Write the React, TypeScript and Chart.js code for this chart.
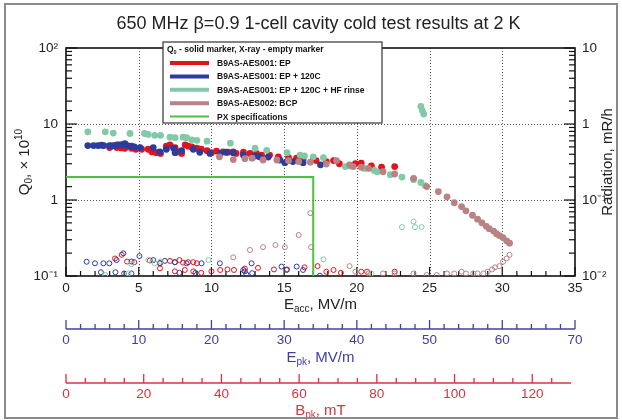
import React, { useEffect, useRef } from 'react';
import { Chart, registerables } from 'chart.js';
Chart.register(...registerables);

const FONT = '"Liberation Sans", Arial, Helvetica, sans-serif';

const TITLE = '650 MHz β=0.9 1-cell cavity cold test results at 2 K';
const LEGEND_HEADER = ' - solid marker, X-ray - empty marker';
const seriesLabels = [
  'B9AS-AES001: EP',
  'B9AS-AES001: EP + 120C',
  'B9AS-AES001: EP + 120C + HF rinse',
  'B9AS-AES002: BCP',
  'PX specifications',
];
const seriesColors = ['#e4121c', '#2b3c9c', '#82c9a9', '#b98283', '#4cc23e'];

// Eacc tick labels / axis ranges
const eaccRange = [0, 35];
const epkRange = [0, 70];
const bpkRange = [0, 131];
const q0Range = [0.1, 100];
const radRange = [0.01, 10];
const q0TickLabels: Record<string, string> = { '-1': '10⁻¹', '0': '1', '1': '10', '2': '10²' };
const radTickLabels: Record<string, string> = { '-2': '10⁻²', '-1': '10⁻¹', '0': '1', '1': '10' };

// ---- Q0 (solid markers), Q0 in units of 1e10 ----
const epEacc = [3.0, 3.5, 3.8, 4.05, 4.3, 4.5, 4.8, 5.2, 5.65, 5.9, 6.2, 6.5, 6.9, 7.15, 7.5, 7.7, 7.95, 8.2, 8.4, 8.65, 9.0, 9.3, 9.7, 10.0, 10.35, 10.8, 11.15, 11.5, 11.7, 12.2, 12.65, 13.1, 13.45, 14.0, 14.6, 15.3, 15.85, 16.3, 17.0, 17.2, 17.9, 18.4, 18.8, 19.9, 20.3, 21.0, 21.7, 22.6];
const epQ = [4.9, 4.9, 4.85, 4.8, 5.1, 4.8, 4.65, 4.65, 4.65, 4.3, 4.2, 4.1, 5.1, 5.3, 4.9, 4.3, 4.1, 5.3, 5.1, 5.0, 4.8, 4.65, 4.45, 4.2, 4.4, 4.3, 4.25, 4.3, 4.1, 4.25, 4.1, 4.1, 3.9, 3.9, 3.7, 3.6, 3.55, 3.4, 3.4, 3.3, 3.2, 3.3, 3.0, 3.0, 3.05, 2.8, 2.7, 2.75];

const bakeEacc = [1.5, 1.9, 2.2, 2.45, 2.6, 3.0, 3.15, 3.3, 3.5, 3.65, 3.85, 4.05, 4.2, 4.5, 4.7, 5.1, 6.0, 6.45, 6.9, 7.4, 7.5, 7.95, 8.75, 9.2, 9.9, 10.6, 11.0, 11.5, 12.2, 12.8, 13.0, 13.3, 13.9, 14.7, 15.05, 15.6, 16.3, 17.5];
const bakeQ = [5.2, 5.2, 5.2, 5.25, 5.2, 5.2, 5.15, 5.2, 5.3, 5.3, 5.35, 5.5, 5.2, 5.1, 5.0, 4.9, 4.9, 4.3, 4.65, 4.8, 4.2, 4.45, 4.65, 4.25, 4.1, 4.1, 4.25, 4.2, 3.9, 3.6, 3.8, 3.7, 3.67, 3.36, 3.1, 3.2, 3.1, 2.9];

const hfEacc = [1.5, 2.7, 3.25, 4.4, 5.4, 5.65, 6.1, 6.5, 7.15, 7.5, 8.05, 8.3, 8.65, 9.0, 9.7, 11.3, 13.0, 13.8, 15.2, 16.1, 16.4, 17.0, 17.7, 19.2, 19.5, 20.5, 21.2, 21.4, 22.3, 23.1, 23.9, 24.4, 24.7, 24.4, 24.5, 24.6];
const hfQ = [7.9, 7.9, 7.6, 7.5, 7.5, 7.3, 7.1, 7.1, 6.7, 6.6, 6.7, 6.6, 6.2, 6.1, 5.95, 5.6, 4.8, 4.5, 4.2, 3.9, 3.8, 3.7, 3.6, 2.75, 2.8, 2.6, 2.45, 2.35, 2.15, 2.0, 1.85, 1.7, 1.55, 17, 15, 13.5];

const bcpEacc = [10.55, 11.5, 12.3, 12.8, 13.55, 14.5, 15.3, 16.0, 16.8, 17.9, 18.6, 19.5, 19.75, 20.3, 20.8, 21.8, 22.6, 23.9, 24.8, 25.6, 26.2, 26.7, 27.2, 27.5, 27.95, 28.3, 28.6, 28.9, 29.1, 29.4, 29.6, 29.8, 30.05, 30.3, 30.5];
const bcpQ = [3.7, 3.4, 3.5, 3.55, 3.36, 3.36, 3.3, 3.2, 3.15, 2.97, 3.3, 2.9, 2.75, 2.7, 2.6, 2.36, 2.2, 1.93, 1.5, 1.29, 1.1, 0.92, 0.82, 0.72, 0.63, 0.56, 0.5, 0.45, 0.42, 0.39, 0.36, 0.34, 0.32, 0.29, 0.27];

// ---- X-ray radiation (empty markers), mR/h ----
const epXEacc = [3.37, 3.83, 4.2, 4.7, 5.77, 6.46, 7.15, 7.49, 7.8, 8.05, 8.4, 8.75, 9.0, 6.46, 7.49, 8.17, 8.75, 9.3, 10.0, 10.6, 11.1, 11.55, 12.3, 13.2, 14.3, 15.2, 16.4, 17.3, 17.9, 18.4, 18.9, 20.3, 20.7, 22.6];
const epXRad = [0.017, 0.019, 0.0155, 0.0152, 0.016, 0.0148, 0.0158, 0.0152, 0.0162, 0.015, 0.0152, 0.0152, 0.0147, 0.0126, 0.0115, 0.012, 0.0115, 0.011, 0.0115, 0.012, 0.0122, 0.012, 0.0125, 0.0128, 0.0122, 0.0122, 0.013, 0.0135, 0.0114, 0.012, 0.011, 0.0114, 0.0114, 0.0114];

const bakeXEacc = [1.42, 1.99, 2.4, 2.57, 2.98, 3.4, 3.48, 3.94, 4.0, 4.5, 4.51, 5.05, 6.0, 6.46, 6.8, 7.49, 7.8, 8.29, 8.9, 9.32, 10.58, 12.19, 12.3, 12.4, 12.76, 12.8, 14.82, 15.17, 15.86, 16.3, 17.46];
const bakeXRad = [0.0154, 0.0147, 0.0112, 0.0147, 0.0147, 0.0112, 0.0162, 0.0199, 0.0108, 0.0108, 0.0155, 0.0183, 0.0162, 0.0147, 0.0158, 0.0152, 0.011, 0.0147, 0.011, 0.0147, 0.0147, 0.012, 0.0115, 0.0105, 0.0147, 0.0109, 0.0133, 0.012, 0.0133, 0.012, 0.0101];

const hfXEacc = [2.7, 4.3, 4.5, 5.66, 6.1, 6.5, 9.8, 17.7, 21.0, 23.1, 23.9, 24.0, 24.45];
const hfXRad = [0.0103, 0.0108, 0.0143, 0.0162, 0.0147, 0.0155, 0.0162, 0.0166, 0.0108, 0.044, 0.052, 0.044, 0.044];

const bcpXEacc = [11.5, 12.65, 13.55, 14.4, 15.05, 16.0, 16.8, 16.85, 19.5, 19.9, 20.8, 21.8, 22.6, 23.9, 24.8, 25.5, 26.2, 26.7, 27.2, 27.5, 28.0, 28.3, 28.7, 29.0, 29.3, 29.5, 29.8, 30.05, 30.3, 30.5];
const bcpXRad = [0.0176, 0.022, 0.024, 0.0256, 0.024, 0.0346, 0.067, 0.024, 0.0135, 0.0114, 0.0108, 0.0108, 0.0108, 0.0108, 0.0103, 0.0103, 0.0108, 0.0108, 0.0114, 0.0108, 0.0108, 0.0108, 0.0108, 0.0114, 0.0122, 0.013, 0.0135, 0.0154, 0.017, 0.019];

// PX specification line
const specEacc = [0, 17, 17];
const specQ = [2, 2, 0.1];

const pts = (xs: number[], ys: number[]) => xs.slice(0, Math.min(xs.length, ys.length)).map((x, i) => ({ x, y: ys[i] }));

type Part = { t: string; size: number; dy?: number; bold?: boolean };
function drawRich(ctx: CanvasRenderingContext2D, parts: Part[], x: number, y: number, color: string, rot = 0, align: 'center' | 'left' = 'center') {
  ctx.save();
  ctx.translate(x, y);
  ctx.rotate(rot);
  ctx.fillStyle = color;
  ctx.textBaseline = 'alphabetic';
  ctx.textAlign = 'left';
  const font = (p: Part) => `${p.bold ? 'bold ' : ''}${p.size}px ${FONT}`;
  const widths = parts.map((p) => { ctx.font = font(p); return ctx.measureText(p.t).width; });
  const total = widths.reduce((a, b) => a + b, 0);
  let cx = align === 'center' ? -total / 2 : 0;
  parts.forEach((p, i) => { ctx.font = font(p); ctx.fillText(p.t, cx, p.dy || 0); cx += widths[i]; });
  ctx.restore();
}

const isDecade = (v: number) => Math.abs(Math.log10(v) - Math.round(Math.log10(v))) < 1e-6;

const framePlugin = {
  id: 'rootFrame',
  beforeDatasetsDraw(chart: any) {
    const { ctx, chartArea: a, scales } = chart;
    const line = (x1: number, y1: number, x2: number, y2: number) => { ctx.beginPath(); ctx.moveTo(x1, y1); ctx.lineTo(x2, y2); ctx.stroke(); };
    ctx.save();
    // dotted grid at major ticks
    ctx.strokeStyle = '#555';
    ctx.lineWidth = 1;
    ctx.setLineDash([1, 2]);
    scales.x.ticks.forEach((t: any) => {
      if (t.value % 5 === 0 && t.value > eaccRange[0] && t.value < eaccRange[1]) {
        const px = Math.round(scales.x.getPixelForValue(t.value)) + 0.5;
        line(px, a.top, px, a.bottom);
      }
    });
    scales.y.ticks.forEach((t: any) => {
      if (isDecade(t.value) && t.value > q0Range[0] * 1.01 && t.value < q0Range[1] * 0.99) {
        const py = Math.round(scales.y.getPixelForValue(t.value)) + 0.5;
        line(a.left, py, a.right, py);
      }
    });
    ctx.setLineDash([]);
    // inward tick marks
    ctx.strokeStyle = '#111';
    ctx.lineWidth = 1.2;
    scales.x.ticks.forEach((t: any) => {
      const px = scales.x.getPixelForValue(t.value);
      const len = t.value % 5 === 0 ? 9 : 5;
      line(px, a.bottom, px, a.bottom - len);
    });
    scales.y.ticks.forEach((t: any) => {
      const py = scales.y.getPixelForValue(t.value);
      const len = isDecade(t.value) ? 11 : 6;
      line(a.left, py, a.left + len, py);
    });
    scales.y2.ticks.forEach((t: any) => {
      const py = scales.y2.getPixelForValue(t.value);
      const len = isDecade(t.value) ? 11 : 6;
      line(a.right, py, a.right - len, py);
    });
    // frame
    ctx.lineWidth = 1.6;
    ctx.strokeRect(a.left, a.top, a.right - a.left, a.bottom - a.top);
    ctx.restore();
  },
  afterDraw(chart: any) {
    const { ctx, chartArea: a, scales } = chart;
    const line = (x1: number, y1: number, x2: number, y2: number) => { ctx.beginPath(); ctx.moveTo(x1, y1); ctx.lineTo(x2, y2); ctx.stroke(); };
    ctx.save();
    // extra axes (Epk, Bpk) with upward ticks
    const extra = [
      { s: scales.x2, color: '#40409f', minor: 2, major: 10 },
      { s: scales.x3, color: '#d7343e', minor: 5, major: 20 },
    ];
    extra.forEach(({ s, color, minor, major }) => {
      ctx.strokeStyle = color;
      ctx.lineWidth = 1.3;
      const y0 = s.top;
      line(s.getPixelForValue(s.min), y0, s.getPixelForValue(s.max - (s.max % minor)), y0);
      s.ticks.forEach((t: any) => {
        if (Math.abs(t.value % minor) > 1e-6) return;
        const px = s.getPixelForValue(t.value);
        const len = t.value % major === 0 ? 9 : 5;
        line(px, y0, px, y0 - len);
      });
    });
    const cx = (a.left + a.right) / 2;
    // axis titles
    drawRich(ctx, [{ t: 'E', size: 15 }, { t: 'acc', size: 10, dy: 3 }, { t: ', MV/m', size: 15 }], cx, scales.x.top + 33, '#222');
    drawRich(ctx, [{ t: 'E', size: 15 }, { t: 'pk', size: 10, dy: 3 }, { t: ', MV/m', size: 15 }], cx, scales.x2.top + 33, '#40409f');
    drawRich(ctx, [{ t: 'B', size: 15 }, { t: 'pk', size: 10, dy: 3 }, { t: ', mT', size: 15 }], cx, scales.x3.top + 32, '#d7343e');
    const cy = (a.top + a.bottom) / 2;
    drawRich(ctx, [{ t: 'Q', size: 15 }, { t: '0', size: 10, dy: 3 }, { t: ', × 10', size: 15 }, { t: '10', size: 10, dy: -7 }], 29, cy, '#222', -Math.PI / 2);
    drawRich(ctx, [{ t: 'Radiation, mR/h', size: 15 }], a.right + 37, cy, '#222', -Math.PI / 2);
    // main title
    drawRich(ctx, [{ t: TITLE, size: 18 }], cx - 2, 29, '#222');
    // legend box
    const lx = a.left + 97, ly = a.top - 6, lw = 219, lh = 81;
    ctx.fillStyle = '#fff';
    ctx.fillRect(lx, ly, lw, lh);
    ctx.strokeStyle = '#333';
    ctx.lineWidth = 1.2;
    ctx.strokeRect(lx, ly, lw, lh);
    drawRich(ctx, [{ t: 'Q', size: 8.5, bold: true }, { t: '0', size: 5.5, dy: 2, bold: true }, { t: LEGEND_HEADER, size: 8.5, bold: true }], lx + 4, ly + 10, '#111', 0, 'left');
    seriesLabels.forEach((lab, i) => {
      const ry = ly + 21 + i * 13.4;
      ctx.strokeStyle = seriesColors[i];
      ctx.lineWidth = i < 4 ? 4 : 2;
      line(lx + 7, ry, lx + 46, ry);
      drawRich(ctx, [{ t: lab, size: 8.5, bold: true }], lx + 54, ry + 3, '#111', 0, 'left');
    });
    // outer frame
    ctx.strokeStyle = '#8a8a8a';
    ctx.lineWidth = 2;
    ctx.strokeRect(5, 4, 612, 414);
    ctx.restore();
  },
};

export default function App() {
  const ref = useRef<HTMLCanvasElement | null>(null);
  useEffect(() => {
    document.body.style.margin = '0';
    const canvas = ref.current!;
    const solid = (label: string, xs: number[], ys: number[], color: string) => ({
      type: 'scatter' as const, label, data: pts(xs, ys), yAxisID: 'y', xAxisID: 'x',
      backgroundColor: color, borderColor: color, borderWidth: 0, pointRadius: 3.4, pointStyle: 'circle',
    });
    const empty = (label: string, xs: number[], ys: number[], color: string) => ({
      type: 'scatter' as const, label, data: pts(xs, ys), yAxisID: 'y2', xAxisID: 'x',
      backgroundColor: 'rgba(0,0,0,0)', borderColor: color, borderWidth: 1, pointRadius: 2.5, pointStyle: 'circle',
    });
    const noGrid = { display: false, drawTicks: false, tickLength: 0 };
    const chart = new Chart(canvas, {
      type: 'scatter',
      data: {
        datasets: [
          { type: 'line', label: seriesLabels[4], data: pts(specEacc, specQ), yAxisID: 'y', xAxisID: 'x', borderColor: seriesColors[4], borderWidth: 2, pointRadius: 0, showLine: true, fill: false, tension: 0 } as any,
          empty(seriesLabels[3], bcpXEacc, bcpXRad, seriesColors[3]),
          empty(seriesLabels[2], hfXEacc, hfXRad, seriesColors[2]),
          empty(seriesLabels[1], bakeXEacc, bakeXRad, seriesColors[1]),
          empty(seriesLabels[0], epXEacc, epXRad, seriesColors[0]),
          solid(seriesLabels[3], bcpEacc, bcpQ, seriesColors[3]),
          solid(seriesLabels[2], hfEacc, hfQ, seriesColors[2]),
          solid(seriesLabels[1], bakeEacc, bakeQ, seriesColors[1]),
          solid(seriesLabels[0], epEacc, epQ, seriesColors[0]),
        ],
      },
      options: {
        responsive: false,
        animation: false,
        devicePixelRatio: 1,
        events: [],
        layout: { padding: { top: 48, left: 0, right: 0, bottom: 0 } },
        plugins: { legend: { display: false }, tooltip: { enabled: false }, title: { display: false } },
        scales: {
          x: {
            type: 'linear', position: 'bottom', weight: 0, min: eaccRange[0], max: eaccRange[1],
            grid: noGrid, border: { display: false },
            ticks: { stepSize: 1, autoSkip: false, maxRotation: 0, padding: 4, color: '#222', font: { size: 13.5, family: FONT }, callback: (v: any) => (Number(v) % 5 === 0 ? String(v) : '') },
            afterFit: (s: any) => { s.height = 53; },
          },
          x2: {
            type: 'linear', position: 'bottom', weight: 1, min: epkRange[0], max: epkRange[1],
            grid: noGrid, border: { display: false },
            ticks: { stepSize: 2, autoSkip: false, maxRotation: 0, padding: 3, color: '#40409f', font: { size: 13.5, family: FONT }, callback: (v: any) => (Number(v) % 10 === 0 ? String(v) : '') },
            afterFit: (s: any) => { s.height = 54; },
          },
          x3: {
            type: 'linear', position: 'bottom', weight: 2, min: bpkRange[0], max: bpkRange[1],
            grid: noGrid, border: { display: false },
            ticks: { stepSize: 5, autoSkip: false, maxRotation: 0, padding: 3, color: '#d7343e', font: { size: 13.5, family: FONT }, callback: (v: any) => (Number(v) % 20 === 0 ? String(v) : '') },
            afterFit: (s: any) => { s.height = 37; },
          },
          y: {
            type: 'logarithmic', position: 'left', min: q0Range[0], max: q0Range[1],
            grid: noGrid, border: { display: false },
            ticks: { autoSkip: false, padding: 8, color: '#222', font: { size: 13.5, family: FONT }, callback: (v: any) => (isDecade(Number(v)) ? q0TickLabels[String(Math.round(Math.log10(Number(v))))] || '' : '') },
            afterFit: (s: any) => { s.width = 66; },
          },
          y2: {
            type: 'logarithmic', position: 'right', min: radRange[0], max: radRange[1],
            grid: noGrid, border: { display: false },
            ticks: { autoSkip: false, padding: 7, color: '#222', font: { size: 13.5, family: FONT }, callback: (v: any) => (isDecade(Number(v)) ? radTickLabels[String(Math.round(Math.log10(Number(v))))] || '' : '') },
            afterFit: (s: any) => { s.width = 47; },
          },
        },
      } as any,
      plugins: [framePlugin],
    });
    return () => chart.destroy();
  }, []);
  return (
    <div style={{ width: 622, height: 420, background: '#fff' }}>
      <canvas ref={ref} width={622} height={420} style={{ display: 'block' }} />
    </div>
  );
}
